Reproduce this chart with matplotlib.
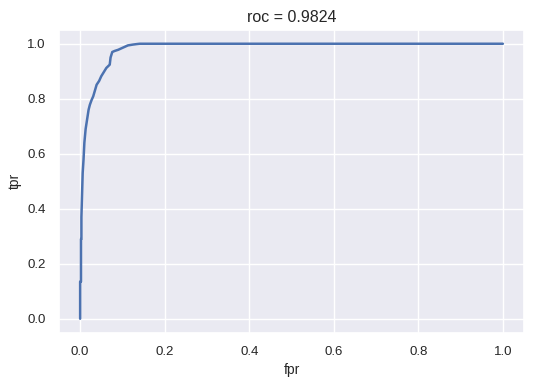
import matplotlib
matplotlib.use("Agg")
import matplotlib.pyplot as plt
import seaborn as sns

# roc curve points
fpr = [0.0, 0.0, 0.002, 0.002, 0.003, 0.003, 0.005, 0.006, 0.008, 0.010,
       0.013, 0.017, 0.020, 0.023, 0.027, 0.031, 0.035, 0.039, 0.045, 0.050,
       0.056, 0.062, 0.066, 0.070, 0.072, 0.076, 0.082, 0.090, 0.100, 0.113,
       0.125, 0.135, 0.141, 1.0]
tpr = [0.0, 0.135, 0.135, 0.29, 0.29, 0.37, 0.476, 0.53, 0.578, 0.64,
       0.69, 0.73, 0.76, 0.778, 0.795, 0.809, 0.83, 0.851, 0.865, 0.882,
       0.897, 0.912, 0.918, 0.924, 0.95, 0.970, 0.974, 0.978, 0.985, 0.994,
       0.997, 0.999, 1.0, 1.0]
roc_auc = 0.9824

sns.set_theme(style="darkgrid")
plt.rcParams["font.family"] = ["Liberation Sans", "DejaVu Sans"]

fig, ax = plt.subplots(figsize=(5.33, 3.83), dpi=100)
fig.subplots_adjust(left=59 / 533, right=524 / 533, top=1 - 30 / 383, bottom=1 - 332.5 / 383)

ax.plot(fpr, tpr, color="#4C72B0", linewidth=1.8)
ax.set_title(f"roc = {roc_auc}", fontsize=11.5)
ax.set_xlabel("fpr", fontsize=10)
ax.set_ylabel("tpr", fontsize=10)
ax.tick_params(labelsize=9.5)

fig.savefig("out.png", dpi=100)
